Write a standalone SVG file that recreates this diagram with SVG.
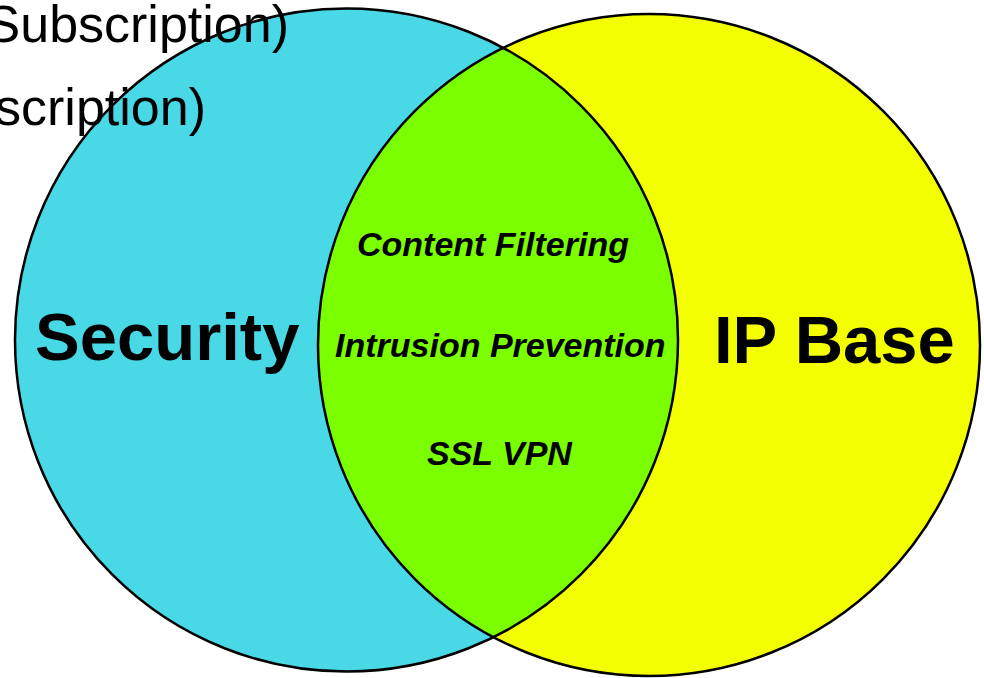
<svg xmlns="http://www.w3.org/2000/svg" width="984" height="678" viewBox="0 0 984 678">
  <style>
    .outline { fill: none; stroke: #000; stroke-width: 2.5; }
    .big { font-family: "Liberation Sans", Arial, sans-serif; font-weight: bold; font-size: 67px; fill: #000; }
    .mid { font-family: "Liberation Sans", Arial, sans-serif; font-weight: bold; font-style: italic; font-size: 34px; fill: #000; }
    .top { font-family: "Liberation Sans", Arial, sans-serif; font-size: 52px; fill: #000; text-anchor: end; }
  </style>
  <defs>
    <clipPath id="leftClip">
      <circle cx="346.5" cy="340" r="331.5"/>
    </clipPath>
  </defs>
  <rect width="984" height="678" fill="#ffffff"/>
  <g id="security">
    <circle cx="346.5" cy="340" r="331.5" fill="#48D8E6"/>
  </g>
  <g id="ipbase">
    <circle cx="649" cy="345" r="331" fill="#F3FF00"/>
  </g>
  <g id="overlap">
    <circle cx="649" cy="345" r="331" fill="#7BFF00" clip-path="url(#leftClip)"/>
  </g>
  <g id="outlines">
    <circle class="outline" cx="346.5" cy="340" r="331.5"/>
    <circle class="outline" cx="649" cy="345" r="331"/>
  </g>
  <g id="labels">
    <text class="big" x="35" y="360">Security</text>
    <text class="big" x="714" y="363">IP Base</text>
    <text class="mid" x="357" y="256">Content Filtering</text>
    <text class="mid" x="335" y="357">Intrusion Prevention</text>
    <text class="mid" x="427" y="465">SSL VPN</text>
  </g>
  <g id="header">
    <text class="top" x="289" y="42">Subscription)</text>
    <text class="top" x="206" y="125">scription)</text>
  </g>
</svg>
